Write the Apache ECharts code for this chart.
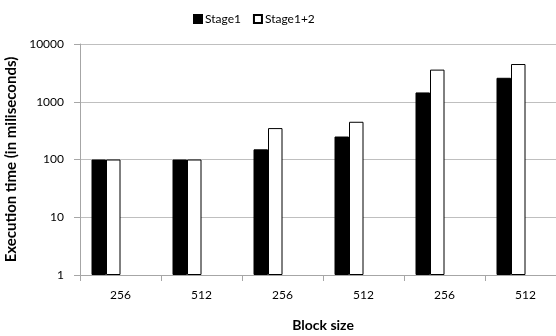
<!DOCTYPE html>
<html><head><meta charset="utf-8">
<script src="https://cdn.jsdelivr.net/npm/echarts@6/dist/echarts.min.js"></script>
<style>html,body{margin:0;padding:0;background:#fff}#c{width:556px;height:336px}</style>
</head><body><div id="c"></div>
<script>
const categories = ['256','512','256','512','256','512'];
const stage1 = [100, 100, 150, 250, 1450, 2600];
const stage12 = [100, 100, 350, 450, 3600, 4500];
const yTicks = [1, 10, 100, 1000, 10000];

const font = 'Lato, "Liberation Sans", sans-serif';
const yMin = yTicks[0], yMax = yTicks[yTicks.length - 1];
const chart = echarts.init(document.getElementById('c'));
chart.setOption({
  animation: false,
  textStyle: {fontFamily: font},
  legend: {
    top: 8, left: 188, itemWidth: 8, itemHeight: 8, itemGap: 12,
    icon: 'rect',
    textStyle: {fontSize: 12, color: '#000', fontFamily: font, padding: [0, 0, 0, -2]},
    data: ['Stage1', 'Stage1+2']
  },
  grid: [
    {left: 80, top: 44, width: 486, height: 231, outerBoundsMode: 'none', containLabel: false},
    {left: 65.5, top: 44, width: 486, height: 231, outerBoundsMode: 'none', containLabel: false}
  ],
  xAxis: [{
    gridIndex: 0, type: 'category', data: categories,
    name: 'Block size', nameLocation: 'middle', nameGap: 43,
    nameTextStyle: {fontWeight: 'bold', fontSize: 14, color: '#000', fontFamily: font},
    axisLine: {lineStyle: {color: '#a6a6a6'}},
    axisTick: {show: true, length: 6, lineStyle: {color: '#a6a6a6'}},
    axisLabel: {color: '#000', fontSize: 12, margin: 14, fontFamily: font}
  }, {
    gridIndex: 1, type: 'category', data: categories, show: false
  }],
  yAxis: [{
    gridIndex: 0, type: 'log', logBase: 10, min: yMin, max: yMax,
    name: 'Execution time (in miliseconds)', nameLocation: 'middle', nameGap: 47,
    nameTextStyle: {fontWeight: 'bold', fontSize: 15, color: '#000', fontFamily: font},
    axisLine: {show: true, lineStyle: {color: '#a6a6a6'}},
    axisTick: {show: true, length: 6, lineStyle: {color: '#a6a6a6'}},
    axisLabel: {color: '#000', fontSize: 12, margin: 16, fontFamily: font,
      formatter: v => String(v)},
    splitLine: {lineStyle: {color: '#bfbfbf', width: 1}}
  }, {
    gridIndex: 1, type: 'log', logBase: 10, min: yMin, max: yMax, show: false,
    splitLine: {show: false}
  }],
  series: [
    {name: 'Stage1', type: 'bar', xAxisIndex: 1, yAxisIndex: 1, data: stage1,
     barWidth: 14.5, barGap: '0%',
     itemStyle: {color: '#000', borderColor: '#000', borderWidth: 1}},
    {name: 'Stage1+2', type: 'bar', xAxisIndex: 1, yAxisIndex: 1, data: stage12,
     barWidth: 14.5, barGap: '0%',
     itemStyle: {color: '#fff', borderColor: '#000', borderWidth: 1}}
  ]
});
</script></body></html>
